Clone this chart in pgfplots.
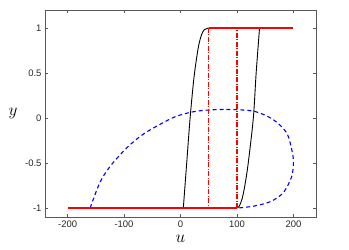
\documentclass[border=0pt]{standalone}
\usepackage{pgfplots}
\pgfplotsset{compat=1.18}
\usepackage{fontspec}
\setmainfont{Liberation Sans}
\begin{document}
\begin{tikzpicture}
\useasboundingbox (0,0) rectangle (349bp,250bp);
\begin{axis}[
  at={(45bp,33bp)}, anchor=south west,
  scale only axis,
  width=271bp, height=207bp,
  xmin=-240, xmax=240, ymin=-1.1, ymax=1.2,
  xtick={-200,-100,0,100,200},
  ytick={-1,-0.5,0,0.5,1},
  tick align=inside,
  major tick length=3bp,
  axis line style={gray!70!black, line width=0.5pt},
  tick style={gray!70!black, line width=0.5pt},
  /pgf/number format/assume math mode=true,
  tick label style={font=\fontsize{9.5}{11}\selectfont, text=black!85},
  xlabel={$u$}, ylabel={$y$},
  label style={font=\fontsize{18}{19}\selectfont},
  xlabel style={at={(0.5,0)}, anchor=north, yshift=-15bp},
  ylabel style={rotate=-90, at={(0,0.5)}, anchor=east, xshift=-24bp},
  clip=false,
]
% blue dashed curve
\addplot[blue, line width=1.1pt, dash pattern=on 4pt off 3pt, smooth] coordinates {
  (-160,-1) (-143,-0.72) (-125,-0.54) (-95,-0.33) (-66,-0.18) (-36,-0.07)
  (-7,0.02) (29,0.076) (76,0.095) (129,0.076) (164,-0.017) (188,-0.165)
  (197,-0.35) (200,-0.48) (197,-0.65) (182,-0.83) (159,-0.93) (129,-0.98) (102,-1)
};
% black loop
\addplot[black, line width=0.9pt, smooth] coordinates {
  (5,-1) (11,-0.5) (17,0) (23,0.4) (27,0.6) (32,0.8) (37,0.92) (42,0.98) (50,1)
};
\addplot[black, line width=0.9pt] coordinates {(50,1) (200,1)};
\addplot[black, line width=0.9pt, smooth] coordinates {
  (100,-1) (104,-0.98) (109,-0.9) (114,-0.75) (120,-0.5) (129,0) (134,0.5) (140,1)
};
\addplot[black, line width=0.9pt] coordinates {(-200,-1) (100,-1)};
% red relay
\addplot[red, line width=1.1pt, dash pattern=on 5pt off 1.5pt on 1pt off 1.5pt] coordinates {(100,-1) (100,1)};
\addplot[red, line width=1.1pt, dash pattern=on 5pt off 1.5pt on 1pt off 1.5pt] coordinates {(50,1) (50,-1)};
\addplot[red, line width=1.3pt] coordinates {(-200,-1) (100,-1)};
\addplot[red, line width=1.3pt] coordinates {(50,1) (200,1)};
\end{axis}
\end{tikzpicture}
\end{document}
